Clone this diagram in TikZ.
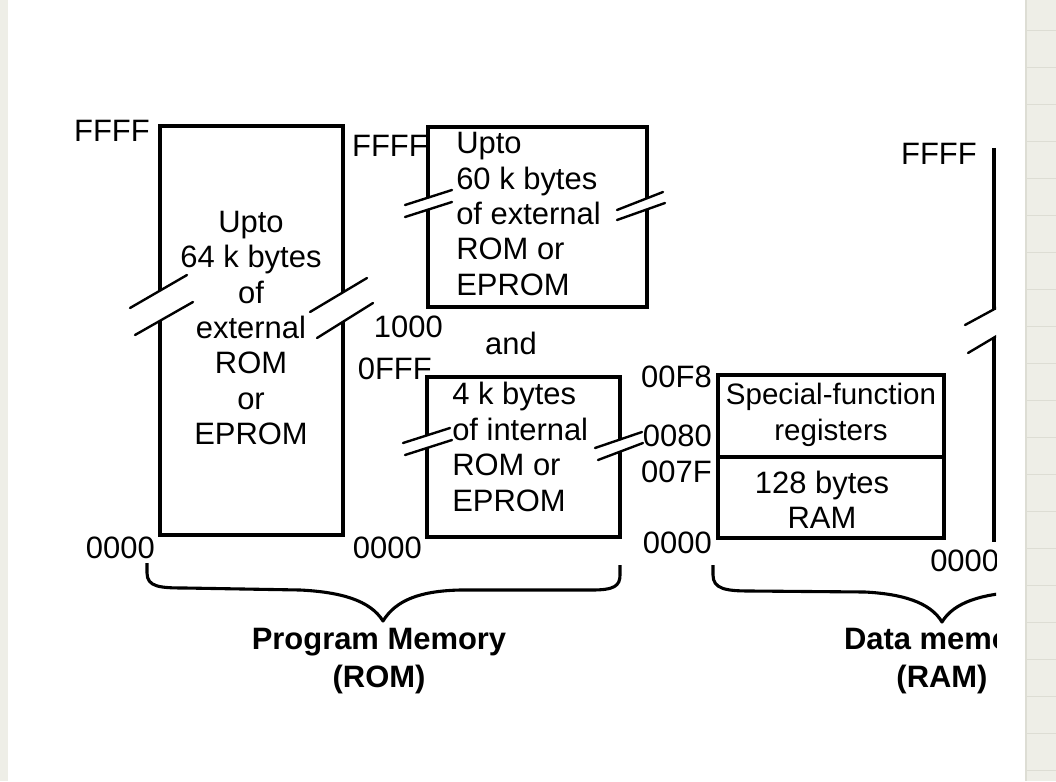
\documentclass[tikz,border=0pt]{standalone}
\usepackage{fontspec}
\setmainfont{Liberation Sans}
\usepackage{tikz}
\usetikzlibrary{positioning}
\definecolor{pageGray}{RGB}{238,238,231}
\definecolor{ruleGray}{RGB}{221,221,212}

\begin{document}
\begin{tikzpicture}[x=0.025cm, y=-0.025cm,
    font=\fontsize{22}{25.2}\selectfont,
    wall/.style={line width=2.2pt},
    cut/.style={line width=1.7pt, line cap=round},
    brc/.style={line width=2.2pt, line join=round},
    addr/.style={inner sep=0pt},
    txt/.style={inner sep=0pt, align=center},
    ltxt/.style={inner sep=0pt, align=left},
    head/.style={inner sep=0pt, align=center, font=\fontsize{22}{27}\selectfont\bfseries}
]
% page and side strips
\useasboundingbox (0,0) rectangle (1056,781);
\fill[pageGray] (0,0) rectangle (1056,781);
\fill[white] (8,0) rectangle (1026,781);
\draw[ruleGray, line width=1pt] (1026,0) -- (1026,781);
\foreach \y in {30,67,...,781} \draw[ruleGray, line width=0.5pt] (1027,\y) -- (1056,\y);

% 64 k external ROM
\draw[wall] (160,291) -- (160,126) -- (343,126) -- (343,292);
\draw[wall] (160,321) -- (160,535) -- (343,535) -- (343,322);
\draw[cut] (130,308) -- (187,275);
\draw[cut] (135,335) -- (193,302);
\draw[cut] (310,312) -- (367,278);
\draw[cut] (317,338) -- (373,303);
\node[txt] (ext64) at (251,328) {Upto\\64 k bytes\\of\\external\\ROM\\or\\EPROM};
\node[addr, anchor=east] (top64) at (150,131) {FFFF};
\node[addr, anchor=east] (bot64) at (155,548) {0000};

% 60 k external ROM
\draw[wall] (428,197) -- (428,127) -- (647,127) -- (647,198);
\draw[wall] (428,210) -- (428,307) -- (647,307) -- (647,209);
\draw[cut] (405,205) -- (452,190);
\draw[cut] (405,217) -- (452,202);
\draw[cut] (617,210) -- (663,192);
\draw[cut] (617,220) -- (665,203);
\node[ltxt, anchor=west] (ext60) at (456,214) {Upto\\60 k bytes\\of external\\ROM or\\EPROM};
\node[addr, anchor=east] (top60) at (428,146) {FFFF};
\node[addr, anchor=east] (bot60) at (443,327) {1000};
\node[addr] (and) at (511,343) {and};

% 4 k internal ROM
\draw[wall] (427,435) -- (427,377) -- (620,377) -- (620,440);
\draw[wall] (427,448) -- (427,537) -- (620,537) -- (620,452);
\draw[cut] (403,443) -- (450,428);
\draw[cut] (405,455) -- (452,440);
\draw[cut] (595,448) -- (642,432);
\draw[cut] (598,460) -- (643,443);
\node[ltxt, anchor=west] (int4) at (452,447) {4 k bytes\\of internal\\ROM or\\EPROM};
\node[addr, anchor=east] (top4) at (432,369) {0FFF};
\node[addr, anchor=east] (bot4) at (422,548) {0000};

% internal RAM
\draw[wall] (718,375) rectangle (944,538);
\draw[wall] (718,457) -- (944,457);
\node[txt, font=\fontsize{21}{25.2}\selectfont] (sfr) at (831,415) {Special-function\\registers};
\node[txt] (ram) at (822,500) {128 bytes\\RAM};
\node[addr, anchor=east] (sfrTop) at (712,377) {00F8};
\node[addr, anchor=east] (sfrBot) at (712,436) {0080};
\node[addr, anchor=east] (ramTop) at (712,472) {007F};
\node[addr, anchor=east] (ramBot) at (712,543) {0000};

% program memory brace
\draw[brc] (147,563) -- (147,573) .. controls (147,587) and (160,588) .. (185,588)
    -- (300,590) .. controls (340,592) and (370,600) .. (383,621)
    .. controls (396,600) and (420,591) .. (460,590)
    -- (592,590) .. controls (614,590) and (620,586) .. (620,575) -- (620,565);
\node[head] (prog) at (379,661) {Program Memory\\(ROM)};

% external data memory, cut off at the right
\begin{scope}
\clip (0,0) rectangle (996,781);
\draw[wall] (994,148) -- (994,310);
\draw[wall] (994,337) -- (994,542);
\draw[cut] (965,325) -- (1000,306);
\draw[cut] (968,353) -- (1000,334);
\node[addr, anchor=east] (topX) at (977,154) {FFFF};
\node[addr, anchor=west] (botX) at (930,561) {0000};
\draw[brc] (713,565) -- (713,575) .. controls (713,589) and (726,591) .. (750,591)
    -- (865,592) .. controls (902,594) and (930,602) .. (942,622)
    .. controls (954,602) and (982,594) .. (1019,592) -- (1100,591);
\node[head] (data) at (942,661) {Data memory\\(RAM)};
\end{scope}
\end{tikzpicture}
\end{document}
